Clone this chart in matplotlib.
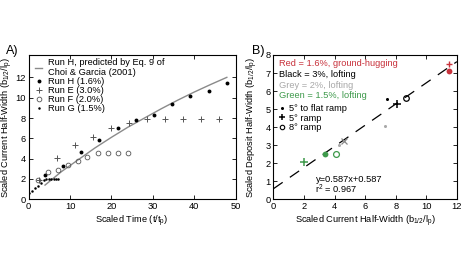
import matplotlib
matplotlib.use("Agg")
import matplotlib.pyplot as plt
from matplotlib.lines import Line2D

plt.rcParams.update({"font.family": ["Liberation Sans", "DejaVu Sans"],
                     "font.size": 6.7, "mathtext.default": "regular",
                     "axes.linewidth": 0.8})

# ── Panel A data (scaled time vs scaled current half-width) ──
pred_t = [3.95, 8, 12, 16, 20, 24, 28, 32, 36, 40, 44, 47.9]
pred_b = [1.4, 2.75, 3.9, 5.05, 6.1, 7.1, 8.0, 8.9, 9.75, 10.55, 11.3, 12.0]

runH_t = [3.95, 8.2, 12.7, 17.0, 21.5, 25.9, 30.2, 34.7, 39.0, 43.5, 47.9]
runH_b = [2.35, 3.3, 4.7, 5.85, 7.0, 7.85, 8.3, 9.4, 10.2, 10.65, 11.4]

runE_t = [2.4, 6.8, 11.1, 15.5, 19.8, 24.2, 28.6, 33.0, 37.4, 41.7, 46.1]
runE_b = [1.9, 4.05, 5.3, 6.15, 7.05, 7.5, 7.9, 7.9, 7.9, 7.9, 7.9]

runF_t = [2.2, 4.6, 7.0, 9.4, 11.8, 14.2, 16.7, 19.1, 21.5, 23.9]
runF_b = [1.9, 2.65, 2.9, 3.35, 3.8, 4.2, 4.55, 4.55, 4.55, 4.55]

runG_t = [0.1, 0.9, 1.6, 2.3, 3.0, 3.7, 4.3, 4.9, 5.5, 6.1, 6.7, 7.2]
runG_b = [0.6, 0.85, 1.1, 1.35, 1.6, 1.9, 2.0, 2.0, 2.0, 2.0, 2.0, 2.0]

# ── Panel B data (current half-width vs deposit half-width) ──
red_dot_x, red_dot_y = [11.5], [7.1]
red_plus_x, red_plus_y = [11.5], [7.5]
blk_dot_x, blk_dot_y = [7.45], [5.58]
blk_plus_x, blk_plus_y = [8.1], [5.27]
blk_circ_x, blk_circ_y = [8.66], [5.64]
grey_dot_x, grey_dot_y = [4.3, 7.3], [3.0, 4.08]
grey_plus_x, grey_plus_y = [4.6], [3.25]
grn_dot_x, grn_dot_y = [3.4], [2.5]
grn_plus_x, grn_plus_y = [2.0], [2.05]
grn_circ_x, grn_circ_y = [4.1], [2.5]

fit_slope, fit_icpt = 0.587, 0.587
fit_x = [0, 12]
fit_y = [fit_slope * x + fit_icpt for x in fit_x]

RED = "#c8323c"
GREY = "#a8a8a8"
GREEN = "#3f9a4c"
DARK = "#555555"

fig = plt.figure(figsize=(4.65, 2.64), dpi=100)
axA = fig.add_axes([0.0617, 0.245, 0.4448, 0.5467])
axB = fig.add_axes([0.588, 0.245, 0.3946, 0.5467])

# ── Panel A ──
axA.plot(pred_t, pred_b, color="#8a8a8a", lw=1.0,
         label="Run H, predicted by Eq. 9 of\nChoi & Garcia (2001)")
axA.plot(runH_t, runH_b, "o", color="black", ms=2.8, mew=0, label="Run H (1.6%)")
axA.plot(runE_t, runE_b, "+", color=DARK, ms=4.5, mew=0.7, label="Run E (3.0%)")
axA.plot(runF_t, runF_b, "o", mfc="none", mec=DARK, ms=3.4, mew=0.6, label="Run F (2.0%)")
axA.plot(runG_t, runG_b, "o", color="black", ms=1.8, mew=0, label="Run G (1.5%)")
axA.set_xlim(0, 50)
axA.set_ylim(0, 14.2)
axA.set_xticks([0, 10, 20, 30, 40, 50])
axA.set_yticks([0, 2, 4, 6, 8, 10, 12])
axA.set_xlabel("Scaled Time (t/t$_p$)", labelpad=2)
axA.set_ylabel("Scaled Current Half-Width (b$_{1/2}$/l$_p$)")
axA.yaxis.set_label_coords(-0.068, 0.5)
axA.legend(loc="upper left", bbox_to_anchor=(0.03, 0.98), frameon=False,
           handlelength=0.8, handletextpad=0.65, labelspacing=0.0,
           borderpad=0, borderaxespad=0, fontsize=6.7)
fig.text(0.012, 0.805, "A)", fontsize=9, va="center")

# ── Panel B ──
axB.plot(fit_x, fit_y, color="black", lw=0.9, dashes=(9, 7))
axB.plot(red_dot_x, red_dot_y, "o", color=RED, ms=4.2, mew=0)
axB.plot(red_plus_x, red_plus_y, "+", color=RED, ms=5, mew=1.0)
axB.plot(blk_dot_x, blk_dot_y, "o", color="black", ms=2.2, mew=0)
axB.plot(blk_plus_x, blk_plus_y, "+", color="black", ms=5.5, mew=1.1)
axB.plot(blk_circ_x, blk_circ_y, "o", mfc="none", mec="black", ms=4, mew=0.9)
axB.plot(grey_dot_x, grey_dot_y, "o", color=GREY, ms=2.2, mew=0)
axB.plot(grey_plus_x, grey_plus_y, "x", color="#888888", ms=4, mew=0.9)
axB.plot(grn_dot_x, grn_dot_y, "o", color=GREEN, ms=4.2, mew=0)
axB.plot(grn_plus_x, grn_plus_y, "+", color=GREEN, ms=5.5, mew=1.1)
axB.plot(grn_circ_x, grn_circ_y, "o", mfc="none", mec=GREEN, ms=4.2, mew=0.9)
axB.set_xlim(0, 12)
axB.set_ylim(0, 8)
axB.set_xticks(range(0, 13, 2))
axB.set_yticks(range(0, 9))
axB.set_xlabel("Scaled Current Half-Width (b$_{1/2}$/l$_p$)", labelpad=2)
axB.set_ylabel("Scaled Deposit Half-Width (b$_{1/2}$/l$_p$)")
axB.yaxis.set_label_coords(-0.075, 0.5)

key_txt = ["Red = 1.6%, ground-hugging", "Black = 3%, lofting",
           "Grey = 2%, lofting", "Green = 1.5%, lofting"]
key_col = [RED, "black", GREY, GREEN]
for i, (t, c) in enumerate(zip(key_txt, key_col)):
    axB.text(0.03, 0.942 - i * 0.075, t, color=c, transform=axB.transAxes,
             va="center", ha="left")

ramp_handles = [Line2D([], [], ls="none", marker="o", color="black", ms=2.2, mew=0),
                Line2D([], [], ls="none", marker="+", color="black", ms=5, mew=1.1),
                Line2D([], [], ls="none", marker="o", mfc="none", mec="black", ms=3.2, mew=0.8)]
axB.legend(ramp_handles, ["5° to flat ramp", "5° ramp", "8° ramp"],
           loc="upper left", bbox_to_anchor=(0.025, 0.66), frameon=False,
           handlelength=0.8, handletextpad=0.4, labelspacing=0.05,
           borderpad=0, borderaxespad=0, fontsize=6.7)

axB.text(2.75, 1.1, "y=0.587x+0.587", va="center")
axB.text(2.75, 0.55, "r$^2$ = 0.967", va="center")
fig.text(0.543, 0.805, "B)", fontsize=9, va="center")

for ax in (axA, axB):
    ax.tick_params(direction="in", top=True, right=True, length=3, width=0.6,
                   pad=2, labelsize=6.7)

plt.savefig("out.png", dpi=100)
